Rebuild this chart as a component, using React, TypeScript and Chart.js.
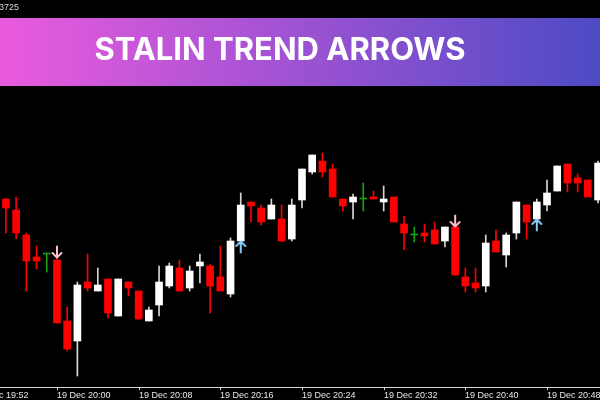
import React, { useEffect, useRef } from "react";
import { Chart, registerables } from "chart.js";

Chart.register(...registerables);

const times = [
  "19:55", "19:56", "19:57", "19:58", "19:59",
  "20:00", "20:01", "20:02", "20:03", "20:04", "20:05", "20:06", "20:07", "20:08", "20:09",
  "20:10", "20:11", "20:12", "20:13", "20:14", "20:15", "20:16", "20:17", "20:18", "20:19",
  "20:20", "20:21", "20:22", "20:23", "20:24", "20:25", "20:26", "20:27", "20:28", "20:29",
  "20:30", "20:31", "20:32", "20:33", "20:34", "20:35", "20:36", "20:37", "20:38", "20:39",
  "20:40", "20:41", "20:42", "20:43", "20:44", "20:45", "20:46", "20:47", "20:48", "20:49",
  "20:50", "20:51", "20:52", "20:53",
];

const opens = [
  1.08726, 1.08715, 1.0869, 1.08668, 1.08671,
  1.08665, 1.08604, 1.08584, 1.08643, 1.08634, 1.08646, 1.08609, 1.08643, 1.08634, 1.08604,
  1.0862, 1.08639, 1.08657, 1.08637, 1.08659, 1.08659, 1.08648, 1.08631, 1.08684, 1.08723,
  1.08717, 1.08706, 1.08706, 1.08686, 1.08725, 1.08753, 1.08764, 1.08756, 1.08726, 1.08723,
  1.08726, 1.08728, 1.08723, 1.08728, 1.08701, 1.0869, 1.08692, 1.08695, 1.08684, 1.08698,
  1.08648, 1.08642, 1.08639, 1.08684, 1.0867, 1.08692, 1.0872, 1.08706, 1.0872, 1.08734,
  1.08761, 1.08747, 1.08745, 1.08725,
];

const highs = [
  1.08726, 1.08728, 1.08692, 1.08679, 1.08671,
  1.08667, 1.08618, 1.08643, 1.08671, 1.08657, 1.08646, 1.08646, 1.08643, 1.08634, 1.08618,
  1.08659, 1.08662, 1.08665, 1.08659, 1.08671, 1.08661, 1.08679, 1.08687, 1.08732, 1.08723,
  1.0872, 1.08726, 1.0872, 1.08726, 1.08756, 1.0877, 1.08772, 1.08761, 1.08726, 1.08731,
  1.08742, 1.08734, 1.08739, 1.08728, 1.08709, 1.08698, 1.08701, 1.08703, 1.08698, 1.08698,
  1.08657, 1.08657, 1.0869, 1.08695, 1.08692, 1.08723, 1.0872, 1.08726, 1.08745, 1.08759,
  1.08761, 1.08751, 1.08745, 1.08764,
];

const lows = [
  1.08692, 1.08686, 1.08634, 1.08656, 1.08653,
  1.08602, 1.08574, 1.08549, 1.08634, 1.08634, 1.08607, 1.08609, 1.08629, 1.08606, 1.08604,
  1.08609, 1.08637, 1.08634, 1.08634, 1.08642, 1.08612, 1.08634, 1.08628, 1.08684, 1.08703,
  1.087, 1.08706, 1.08684, 1.08684, 1.08717, 1.08751, 1.08748, 1.08728, 1.08714, 1.08706,
  1.08714, 1.08726, 1.08714, 1.08703, 1.08675, 1.08683, 1.08683, 1.08681, 1.08678, 1.0865,
  1.08633, 1.08633, 1.08633, 1.08673, 1.08658, 1.08686, 1.08686, 1.08706, 1.08714, 1.08734,
  1.08733, 1.08733, 1.08728, 1.08722,
];

const closes = [
  1.08717, 1.08692, 1.08664, 1.08664, 1.08671,
  1.08602, 1.08576, 1.0864, 1.08637, 1.0864, 1.08612, 1.08646, 1.08637, 1.08606, 1.08615,
  1.08643, 1.08659, 1.08634, 1.08654, 1.08663, 1.08639, 1.08634, 1.08684, 1.0872, 1.08719,
  1.08703, 1.0872, 1.08684, 1.0872, 1.08756, 1.0877, 1.08753, 1.08728, 1.08719, 1.08728,
  1.08726, 1.08726, 1.08726, 1.08703, 1.08692, 1.0869, 1.08689, 1.08681, 1.08698, 1.0865,
  1.08639, 1.08637, 1.08682, 1.08673, 1.0869, 1.08723, 1.08703, 1.08723, 1.08732, 1.08759,
  1.08742, 1.08742, 1.08728, 1.08762,
];

const tickLabels = [
  "19 Dec 19:52", "19 Dec 20:00", "19 Dec 20:08", "19 Dec 20:16",
  "19 Dec 20:24", "19 Dec 20:32", "19 Dec 20:40", "19 Dec 20:48",
];

const sellArrowTimes = ["20:00", "20:39"];
const buyArrowTimes = ["20:18", "20:47"];

const priceLabel = "3725";
const title = "STALIN TREND ARROWS";

const PRICE_MIN = 1.08538;
const PRICE_MAX = 1.08925;
const X_MIN = -5.58;
const X_MAX = 53.19;

const toMinutes = (t: string) => {
  const [h, m] = t.split(":").map(Number);
  return (h - 20) * 60 + m;
};

const BULL = "#ffffff";
const BEAR = "#ff0000";
const DOJI = "#14a014";
const BULL_WICK = "#d6d6d6";

function makeArrow(color: string, down: boolean) {
  const c = document.createElement("canvas");
  c.width = 12;
  c.height = 26;
  const g = c.getContext("2d")!;
  g.strokeStyle = color;
  g.lineWidth = 2;
  g.lineCap = "round";
  g.lineJoin = "round";
  g.beginPath();
  if (down) {
    g.moveTo(6, 1.5);
    g.lineTo(6, 12.5);
    g.moveTo(1.5, 8);
    g.lineTo(6, 12.5);
    g.lineTo(10.5, 8);
  } else {
    g.moveTo(6, 24.5);
    g.lineTo(6, 13.5);
    g.moveTo(1.5, 18);
    g.lineTo(6, 13.5);
    g.lineTo(10.5, 18);
  }
  g.stroke();
  return c;
}

export default function App() {
  const ref = useRef<HTMLCanvasElement | null>(null);

  useEffect(() => {
    if (!ref.current) return;
    const xs = times.map(toMinutes);
    const colorOf = (i: number) =>
      closes[i] > opens[i] ? BULL : closes[i] < opens[i] ? BEAR : DOJI;
    const wickColorOf = (i: number) =>
      closes[i] > opens[i] ? BULL_WICK : closes[i] < opens[i] ? BEAR : DOJI;

    const sellPts = sellArrowTimes.map((t) => {
      const i = times.indexOf(t);
      return { x: xs[i], y: highs[i] };
    });
    const buyPts = buyArrowTimes.map((t) => {
      const i = times.indexOf(t);
      return { x: xs[i], y: lows[i] };
    });

    const overlay = {
      id: "overlay",
      afterDraw(chart: any) {
        const ctx = chart.ctx as CanvasRenderingContext2D;
        const xScale = chart.scales.x;
        const W = chart.width;
        const axisY = chart.chartArea.bottom;
        ctx.save();
        // banner
        const grad = ctx.createLinearGradient(0, 0, W, 0);
        grad.addColorStop(0, "#ea5bdd");
        grad.addColorStop(0.45, "#a553d4");
        grad.addColorStop(1, "#4d4bc4");
        ctx.fillStyle = grad;
        ctx.fillRect(0, 18, W, 68);
        ctx.fillStyle = "#ffffff";
        ctx.font = "bold 31px Inter";
        ctx.textAlign = "center";
        ctx.textBaseline = "alphabetic";
        ctx.fillText(title, 280, 60);
        // price label at top
        ctx.fillStyle = "#d8d8d8";
        ctx.font = "9px 'Liberation Sans'";
        ctx.textAlign = "left";
        ctx.fillText(priceLabel, -1, 10);
        // x axis
        ctx.strokeStyle = "#d8d8d8";
        ctx.lineWidth = 1;
        ctx.beginPath();
        ctx.moveTo(0, axisY + 0.5);
        ctx.lineTo(W, axisY + 0.5);
        ctx.stroke();
        ctx.fillStyle = "#e6e6e6";
        ctx.font = "9px 'Liberation Sans'";
        ctx.textAlign = "left";
        ctx.textBaseline = "alphabetic";
        tickLabels.forEach((lab) => {
          const v = toMinutes(lab.slice(-5));
          const px = Math.round(xScale.getPixelForValue(v));
          ctx.beginPath();
          ctx.moveTo(px + 0.5, axisY);
          ctx.lineTo(px + 0.5, axisY + 3);
          ctx.stroke();
          ctx.fillText(lab, px, axisY + 11);
        });
        ctx.restore();
      },
    };

    const chart = new Chart(ref.current, {
      type: "bar",
      data: {
        datasets: [
          {
            type: "scatter",
            data: sellPts,
            pointStyle: makeArrow("#ffc0cb", true) as any,
            pointRadius: 6,
            order: 0,
          } as any,
          {
            type: "scatter",
            data: buyPts,
            pointStyle: makeArrow("#87cefa", false) as any,
            pointRadius: 6,
            order: 0,
          } as any,
          {
            type: "bar",
            data: xs.map((x, i) => ({ x, y: [opens[i], closes[i]] })),
            backgroundColor: xs.map((_, i) => colorOf(i)),
            borderWidth: 0,
            barThickness: 7,
            minBarLength: 1,
            grouped: false,
            order: 1,
          } as any,
          {
            type: "bar",
            data: xs.map((x, i) => ({ x, y: [lows[i], highs[i]] })),
            backgroundColor: xs.map((_, i) => wickColorOf(i)),
            borderWidth: 0,
            barThickness: 1,
            grouped: false,
            order: 2,
          } as any,
        ],
      },
      options: {
        responsive: false,
        maintainAspectRatio: false,
        animation: false,
        layout: {
          autoPadding: false,
          padding: { top: 0, left: 0, right: 0, bottom: 13 },
        },
        plugins: { legend: { display: false }, tooltip: { enabled: false } },
        scales: {
          x: {
            type: "linear",
            min: X_MIN,
            max: X_MAX,
            offset: false,
            grid: { offset: false },
            display: false,
          },
          y: { type: "linear", min: PRICE_MIN, max: PRICE_MAX, display: false },
        },
      },
      plugins: [overlay],
    } as any);
    return () => chart.destroy();
  }, []);

  return (
    <div
      style={{
        position: "fixed",
        left: 0,
        top: 0,
        width: 600,
        height: 400,
        background: "#000000",
        overflow: "hidden",
      }}
    >
      <canvas ref={ref} width={600} height={400} style={{ display: "block" }} />
    </div>
  );
}
